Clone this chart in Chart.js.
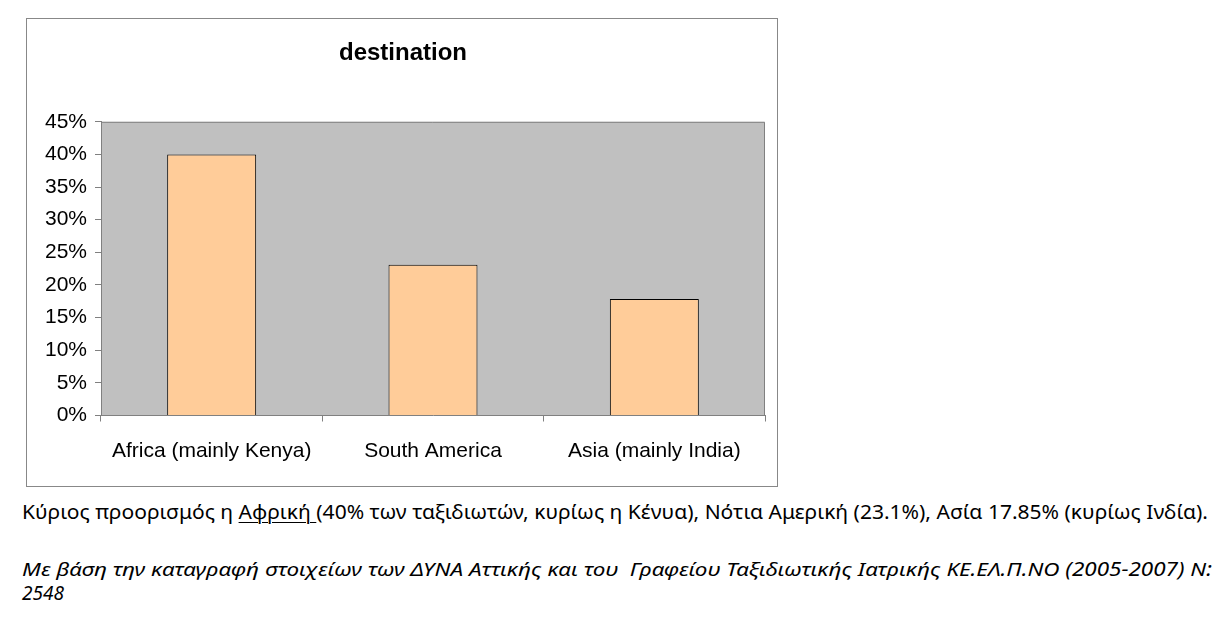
<!DOCTYPE html>
<html lang="el">
<head>
<meta charset="UTF-8">
<title>destination</title>
<script src="https://cdn.jsdelivr.net/npm/chart.js@4.4.0/dist/chart.umd.min.js"></script>
<style>
  body { margin: 0; background: #fff; width: 1232px; height: 626px; overflow: hidden; position: relative; }
  #box { position: absolute; left: 26px; top: 18px; width: 752px; height: 469px; border: 1px solid #888; box-sizing: border-box; }
  #box canvas { display: block; }
  .txt { position: absolute; left: 22px; font-family: "Noto Sans", sans-serif; font-size: 19px; color: #000; white-space: nowrap; transform-origin: 0 50%; line-height: 23px; }
  #t1 { top: 501px; }
  #t2 { top: 558px; font-style: italic; }
  #t3 { top: 582px; font-style: italic; }
  u { text-decoration-thickness: 1px; text-underline-offset: 3px; }
</style>
</head>
<body>
<div id="box"><canvas id="myChart" width="750" height="467"></canvas></div>
<div class="txt" id="t1" data-w="1186">Κύριος προορισμός η <u>Αφρική </u>(40% των ταξιδιωτών, κυρίως η Κένυα), Νότια Αμερική (23.1%), Ασία 17.85% (κυρίως Ινδία).</div>
<div class="txt" id="t2" data-w="1190">Με βάση την καταγραφή στοιχείων των ΔΥΝΑ Αττικής και του&nbsp; Γραφείου Ταξιδιωτικής Ιατρικής ΚΕ.ΕΛ.Π.ΝΟ (2005-2007) Ν:</div>
<div class="txt" id="t3">2548</div>
<script>
  const categories = ['Africa (mainly Kenya)', 'South America', 'Asia (mainly India)'];
  const shares = [40, 23.1, 17.85];
  const yTicks = [0, 5, 10, 15, 20, 25, 30, 35, 40, 45];

  // squeeze the caption lines to the width of the original (Calibri is narrower)
  document.querySelectorAll('.txt[data-w]').forEach(el => {
    const w = el.getBoundingClientRect().width;
    el.style.transform = 'scaleX(' + (el.dataset.w / w) + ')';
  });

  const plotBg = {
    id: 'plotBg',
    beforeDraw(chart) {
      const { ctx, chartArea: a } = chart;
      ctx.save();
      ctx.fillStyle = '#c0c0c0';
      ctx.fillRect(a.left, a.top, a.right - a.left, a.bottom - a.top);
      ctx.strokeStyle = '#808080';
      ctx.lineWidth = 1;
      ctx.beginPath();
      ctx.moveTo(a.left, a.top + 0.5);
      ctx.lineTo(a.right - 0.5, a.top + 0.5);
      ctx.lineTo(a.right - 0.5, a.bottom);
      ctx.stroke();
      ctx.restore();
    }
  };

  const font = { family: '"Liberation Sans", Arial, sans-serif', size: 21 };

  new Chart(document.getElementById('myChart'), {
    type: 'bar',
    data: {
      labels: categories,
      datasets: [{
        data: shares,
        backgroundColor: '#ffcc99',
        borderColor: '#000',
        borderWidth: 1,
        barPercentage: 0.402,
        categoryPercentage: 1
      }]
    },
    options: {
      responsive: false,
      animation: false,
      layout: { padding: { left: 14, right: 12, top: 0, bottom: 0 } },
      plugins: {
        legend: { display: false },
        tooltip: { enabled: false },
        title: {
          display: true,
          text: 'destination',
          color: '#000',
          font: { family: font.family, size: 24, weight: 'bold' },
          padding: { top: 20, bottom: 54 }
        }
      },
      scales: {
        x: {
          afterFit(scale) { scale.height = 70.5; },
          grid: { offset: true, drawOnChartArea: false, drawTicks: true, tickLength: 6, color: '#808080' },
          border: { color: '#808080' },
          ticks: { color: '#000', font: font, padding: 17, maxRotation: 0 }
        },
        y: {
          min: 0,
          max: 45,
          afterFit(scale) { scale.width = 60; },
          afterBuildTicks(scale) { scale.ticks = yTicks.map(v => ({ value: v })); },
          grid: { drawOnChartArea: false, drawTicks: true, tickLength: 6, color: '#808080' },
          border: { color: '#808080' },
          ticks: { color: '#000', font: font, padding: 8, callback: v => v + '%' }
        }
      }
    },
    plugins: [plotBg]
  });
</script>
</body>
</html>
